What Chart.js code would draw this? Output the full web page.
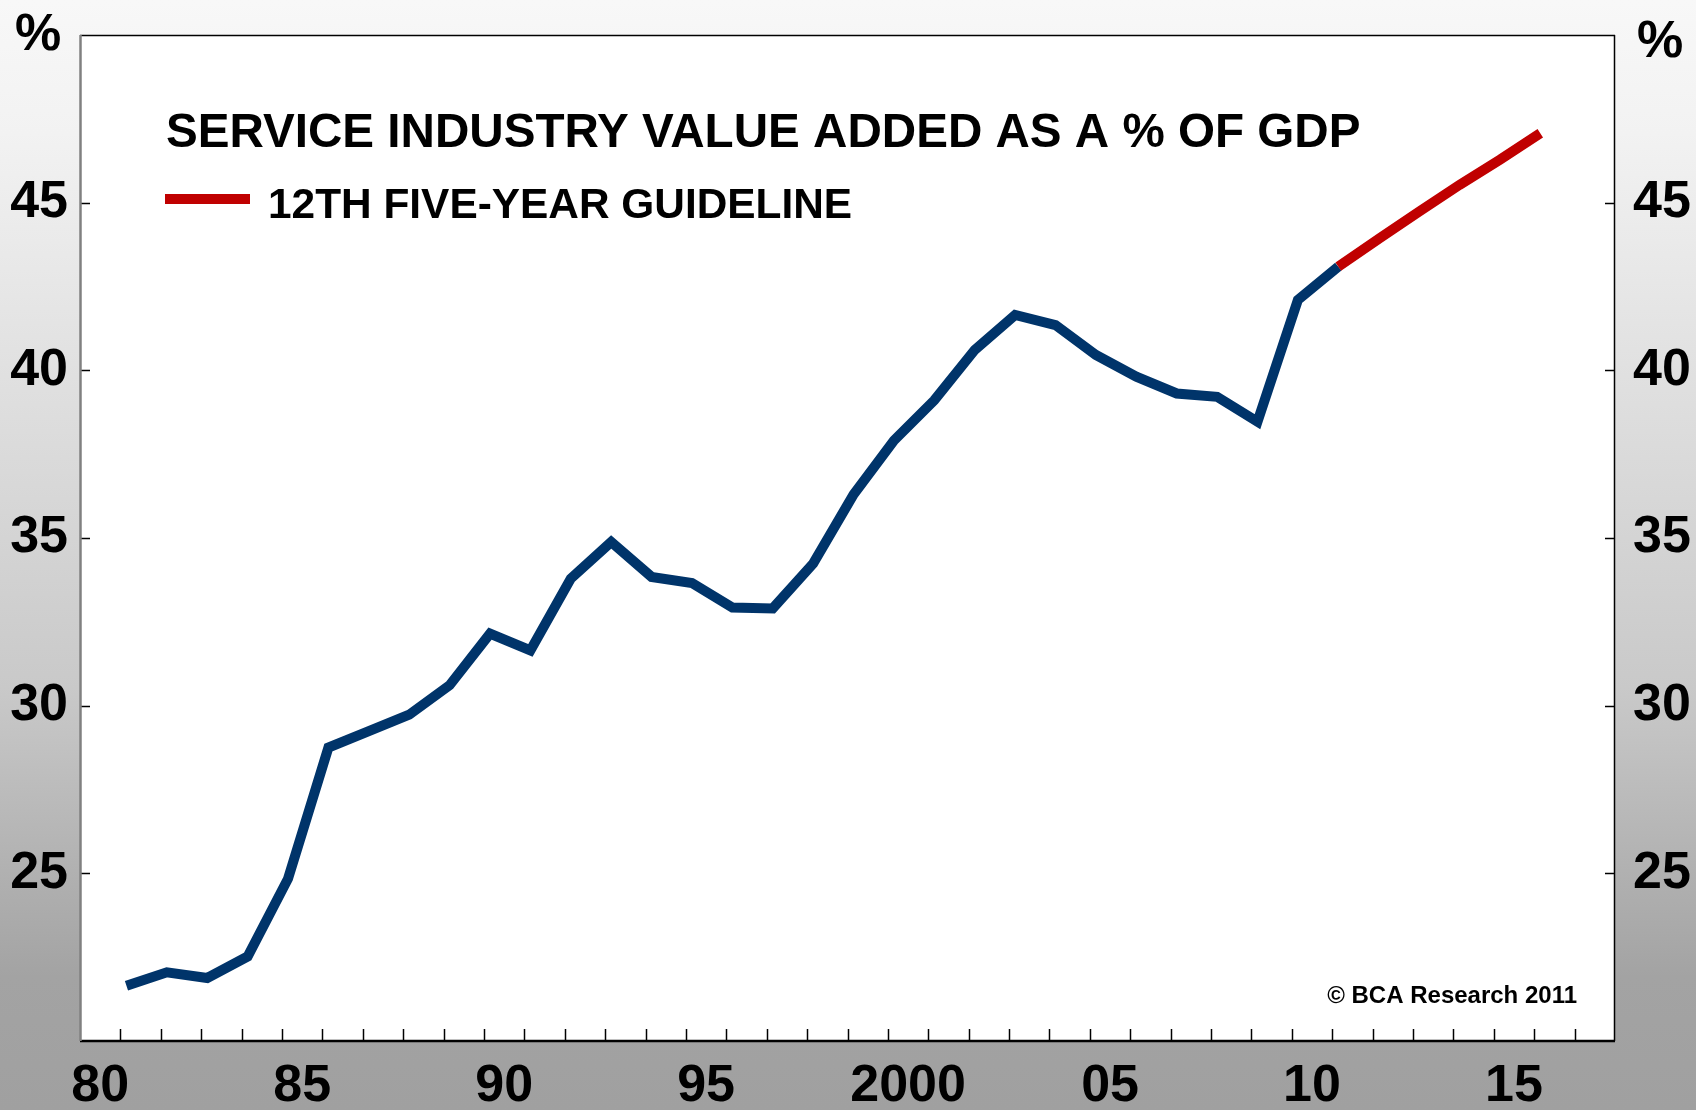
<!DOCTYPE html>
<html>
<head>
<meta charset="utf-8">
<script src="https://cdn.jsdelivr.net/npm/chart.js@4.4.1/dist/chart.umd.min.js"></script>
<style>
    body { margin: 0; }
    #wrap {
        width: 1696px;
        height: 1110px;
        background: linear-gradient(to bottom, #f8f8f8 0%, #f2f2f2 12%, #c9c9c9 62%, #a3a3a3 88%, #a0a0a0 100%);
    }
</style>
</head>
<body>
<div id="wrap"><canvas id="chart" width="1696" height="1110"></canvas></div>
<script>
// annual service industry share of GDP (%), actual
const serviceYears = [1981, 1982, 1983, 1984, 1985, 1986, 1987, 1988, 1989, 1990,
    1991, 1992, 1993, 1994, 1995, 1996, 1997, 1998, 1999, 2000,
    2001, 2002, 2003, 2004, 2005, 2006, 2007, 2008, 2009, 2010, 2011];
const serviceShare = [21.65, 22.05, 21.88, 22.52, 24.84, 28.75, 29.24, 29.73, 30.61, 32.15,
    31.65, 33.79, 34.88, 33.84, 33.66, 32.93, 32.90, 34.24, 36.30, 37.91,
    39.11, 40.61, 41.65, 41.35, 40.46, 39.81, 39.31, 39.21, 38.47, 42.10, 43.09];

// 12th five-year plan guideline
const guidelineYears = [2011, 2012, 2013, 2014, 2015, 2016];
const guidelineShare = [43.09, 43.92, 44.73, 45.53, 46.28, 47.07];

const labelYears = [1980, 1985, 1990, 1995, 2000, 2005, 2010, 2015];
const tickLabels = ["80", "85", "90", "95", "2000", "05", "10", "15"];
const yTicks = [25, 30, 35, 40, 45];

const titleText = "SERVICE INDUSTRY VALUE ADDED AS A % OF GDP";
const legendText = "12TH FIVE-YEAR GUIDELINE";
const creditText = "\u00A9 BCA Research 2011";

const FONT = "'Liberation Sans', Arial, sans-serif";
const BLUE = "#00346a";
const RED = "#c00000";
const pointOffset = 0.15;

const toPoints = (years, values) => years.map((yr, i) => ({ x: yr + pointOffset, y: values[i] }));

const frameAndTicks = {
    id: "frameAndTicks",
    beforeDatasetsDraw(chart) {
        const { ctx, chartArea: a } = chart;
        ctx.save();
        ctx.fillStyle = "#ffffff";
        ctx.fillRect(a.left, a.top, a.right - a.left, a.bottom - a.top);
        ctx.restore();
    },
    afterDatasetsDraw(chart) {
        const { ctx, chartArea: a, scales } = chart;
        ctx.save();
        ctx.strokeStyle = "#000";
        ctx.lineWidth = 1.5;
        // year ticks on the bottom, inward
        for (let yr = 1981; yr < 2018; yr++) {
            const px = Math.round(scales.x.getPixelForValue(yr)) + 0.5;
            ctx.beginPath();
            ctx.moveTo(px, a.bottom);
            ctx.lineTo(px, a.bottom - 12);
            ctx.stroke();
        }
        // y ticks, both sides
        yTicks.forEach(v => {
            const py = Math.round(scales.y.getPixelForValue(v)) + 0.5;
            ctx.beginPath();
            ctx.moveTo(a.left, py);
            ctx.lineTo(a.left + 10, py);
            ctx.moveTo(a.right, py);
            ctx.lineTo(a.right - 10, py);
            ctx.stroke();
        });
        // frame
        ctx.lineWidth = 1.5;
        ctx.beginPath();
        ctx.moveTo(a.left, a.top + 0.5);
        ctx.lineTo(a.right, a.top + 0.5);
        ctx.moveTo(a.right - 0.5, a.top);
        ctx.lineTo(a.right - 0.5, a.bottom);
        ctx.stroke();
        ctx.lineWidth = 2.5;
        ctx.beginPath();
        ctx.moveTo(a.left, a.bottom);
        ctx.lineTo(a.right, a.bottom);
        ctx.stroke();
        ctx.strokeStyle = "#808080";
        ctx.lineWidth = 2.5;
        ctx.beginPath();
        ctx.moveTo(a.left + 0.5, a.top);
        ctx.lineTo(a.left + 0.5, a.bottom);
        ctx.stroke();

        // title, legend, credit
        ctx.fillStyle = "#000";
        ctx.textBaseline = "alphabetic";
        ctx.textAlign = "left";
        ctx.font = "bold 47.6px " + FONT;
        ctx.fillText(titleText, 166, 147);

        ctx.strokeStyle = RED;
        ctx.lineWidth = 10;
        ctx.beginPath();
        ctx.moveTo(165, 199);
        ctx.lineTo(250, 199);
        ctx.stroke();
        ctx.font = "bold 42.4px " + FONT;
        ctx.fillText(legendText, 268, 218);

        ctx.textAlign = "right";
        ctx.font = "bold 24px " + FONT;
        ctx.fillText(creditText, 1577, 1003);

        // % unit labels
        ctx.textAlign = "center";
        ctx.font = "bold 52px " + FONT;
        ctx.fillText("%", 38, 50);
        ctx.fillText("%", 1660, 57);
        ctx.restore();
    }
};

const yAxis = (position, width, padding) => ({
    type: "linear",
    position: position,
    min: 20,
    max: 50,
    grid: { display: false, drawTicks: false },
    border: { display: false },
    afterBuildTicks: scale => { scale.ticks = yTicks.map(v => ({ value: v })); },
    afterFit: scale => {
        scale.width = width;
        scale.paddingTop = 0;
        scale.paddingBottom = 0;
    },
    ticks: {
        padding: padding,
        color: "#000",
        font: { family: FONT, size: 52, weight: "bold" },
        callback: v => String(v)
    }
});

new Chart(document.getElementById("chart"), {
    type: "line",
    data: {
        datasets: [
            {
                label: legendText,
                data: toPoints(guidelineYears, guidelineShare),
                borderColor: RED,
                borderWidth: 10,
                order: 0
            },
            {
                label: titleText,
                data: toPoints(serviceYears, serviceShare),
                borderColor: BLUE,
                borderWidth: 10,
                order: 1
            }
        ]
    },
    options: {
        responsive: false,
        animation: false,
        devicePixelRatio: 1,
        layout: { padding: { top: 35, left: 0, right: 0, bottom: 0 } },
        elements: {
            point: { radius: 0 },
            line: { tension: 0, borderCapStyle: "butt", borderJoinStyle: "miter" }
        },
        plugins: {
            legend: { display: false },
            title: { display: false },
            tooltip: { enabled: false }
        },
        scales: {
            x: {
                type: "linear",
                min: 1980,
                max: 2018,
                grid: { display: false, drawTicks: false },
                border: { display: false },
                afterBuildTicks: scale => { scale.ticks = labelYears.map(yr => ({ value: yr + 0.5 })); },
                afterFit: scale => {
                    scale.height = 69;
                    scale.paddingLeft = 0;
                    scale.paddingRight = 0;
                },
                ticks: {
                    autoSkip: false,
                    maxRotation: 0,
                    padding: 14,
                    color: "#000",
                    font: { family: FONT, size: 52, weight: "bold" },
                    callback: (v, i) => tickLabels[i]
                }
            },
            y: yAxis("left", 80, 12),
            y2: yAxis("right", 81, 18)
        }
    },
    plugins: [frameAndTicks]
});
</script>
</body>
</html>
